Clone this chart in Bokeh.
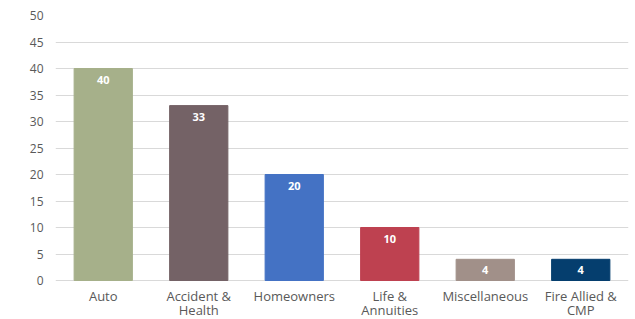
from bokeh.plotting import figure
from bokeh.models import ColumnDataSource, Range1d, FixedTicker
from bokeh.core.properties import value
from bokeh.embed import file_html
from bokeh.resources import INLINE

categories = ["Auto", "Accident &\nHealth", "Homeowners", "Life &\nAnnuities", "Miscellaneous", "Fire Allied &\nCMP"]
values = [40, 33, 20, 10, 4, 4]
colors = ["#A6B08A", "#746266", "#4472C4", "#BE4150", "#A19089", "#053E6E"]
labels = [str(v) for v in values]
y_ticks = [0, 5, 10, 15, 20, 25, 30, 35, 40, 45, 50]

src = ColumnDataSource(dict(cat=categories, val=values, color=colors, label=labels,
                            zero=[0] * len(categories)))

# frame spans from y=50 (top) down past 0 so category labels live inside the frame
px_per_unit = 265 / 50.0
p = figure(x_range=categories, y_range=Range1d(-39 / px_per_unit, 50), width=635, height=319,
           output_backend="svg", toolbar_location=None,
           min_border_left=55, min_border_right=7, min_border_top=15, min_border_bottom=0)
p.outline_line_color = None
p.vbar(x="cat", top="val", width=0.61, color="color", source=src)
p.text(x="cat", y="val", text="label", source=src, text_color="white",
       text_font=value("Open Sans"), text_font_style="bold", text_font_size="11px",
       text_align="center", text_baseline="middle", y_offset=11)
p.text(x="cat", y="zero", text="cat", source=src, text_color="#595959",
       text_font=value("Open Sans"), text_font_size="13px", text_line_height=0.78,
       text_align="center", text_baseline="top", y_offset=6)

p.yaxis.ticker = FixedTicker(ticks=y_ticks)
p.yaxis.axis_line_color = None
p.yaxis.major_tick_line_color = None
p.yaxis.minor_tick_line_color = None
p.yaxis.major_tick_out = 0
p.yaxis.major_label_text_font = "Open Sans"
p.yaxis.major_label_text_font_size = "12px"
p.yaxis.major_label_text_color = "#595959"
p.yaxis.major_label_standoff = 12

p.xaxis.visible = False

p.xgrid.grid_line_color = None
p.ygrid.grid_line_color = "#d9d9d9"
p.ygrid.grid_line_width = 1

open("out.html", "w").write(file_html(p, INLINE))
